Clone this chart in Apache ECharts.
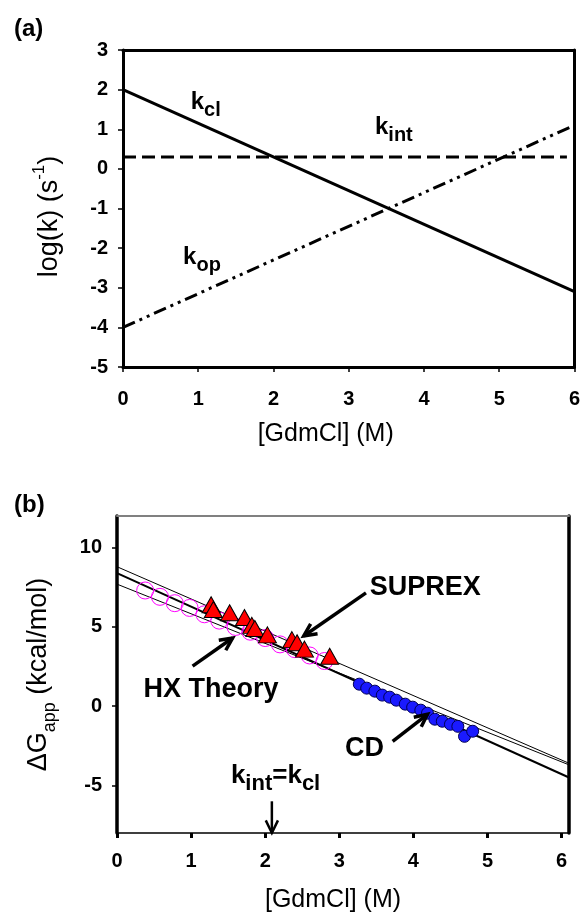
<!DOCTYPE html>
<html>
<head>
<meta charset="UTF-8">
<script src="https://cdn.jsdelivr.net/npm/echarts@6/dist/echarts.min.js"></script>
<style>
  * { padding: 0; margin: 0; }
  body { background: #fff; }
  #box { width: 583px; height: 917px; }
</style>
</head>
<body>
<div id="box"></div>
<script>
  // ---- panel (a) ----
  var lineX = [0, 6]
  var kcl = [2, -3.1]
  var kop = [-4, 1.1]
  var kintX = [0, 5.9]
  var kint = [0.3, 0.3]
  var xTicksA = [0, 1, 2, 3, 4, 5, 6]
  var yTicksA = [-5, -4, -3, -2, -1, 0, 1, 2, 3]
  // label positions (data coords)
  var labelsA = [
    ['{k|k}{s|cl}', 1.1, 1.6],
    ['{k|k}{s|int}', 3.6, 0.98],
    ['{k|k}{s|op}', 1.05, -2.3]
  ]

  // ---- panel (b) ----
  var fitX = [0, 6.1]
  var fitTop = [8.8, -3.6]
  var fitMid = [8.4, -4.5]
  var fitLow = [7.7, -3.7]
  var hxX = [0.38, 0.58, 0.78, 0.98, 1.18, 1.38, 1.6, 1.8, 2.0, 2.2, 2.4, 2.6, 2.8]
  var hxY = [7.3, 6.9, 6.5, 6.2, 5.8, 5.4, 5.0, 4.7, 4.3, 3.9, 3.6, 3.2, 2.85]
  var suprexX = [1.27, 1.3, 1.52, 1.72, 1.82, 1.86, 2.03, 2.36, 2.43, 2.53, 2.87]
  var suprexY = [6.4, 6.1, 5.9, 5.6, 5.1, 4.9, 4.5, 4.2, 4.0, 3.6, 3.15]
  var cdX = [3.27, 3.37, 3.48, 3.58, 3.68, 3.77, 3.89, 3.99, 4.1, 4.19, 4.29, 4.39, 4.5, 4.6, 4.69, 4.8]
  var cdY = [1.39, 1.14, 0.95, 0.7, 0.57, 0.38, 0.13, -0.06, -0.25, -0.44, -0.82, -0.95, -1.14, -1.27, -1.9, -1.58]
  var xTicksB = [0, 1, 2, 3, 4, 5, 6]
  var yTicksB = [-5, 0, 5, 10]
  var labelsB = [
    ['SUPREX', 4.16, 7.47],
    ['HX Theory', 1.27, 1.08],
    ['CD', 3.34, -2.66],
    ['{k|k}{s|int}{k|=k}{s|cl}', 2.14, -4.56]
  ]
  // arrows: x1, y1 (tail), x2, y2 (head)
  var arrowsB = [
    [3.36, 7.15, 2.52, 4.43],
    [1.02, 2.53, 1.56, 4.3],
    [3.72, -2.22, 4.19, -0.51],
    [2.09, -6.0, 2.09, -8.0]
  ]

  function zip(xs, ys) {
    var out = []
    for (let i = 0; i < xs.length; i++) out.push([xs[i], ys[i]])
    return out
  }

  var FONT = "'Liberation Sans', Arial, sans-serif"
  var richA = {
    k: { fontFamily: FONT, fontWeight: 'bold', fontSize: 24, color: '#000', lineHeight: 30, verticalAlign: 'top' },
    s: { fontFamily: FONT, fontWeight: 'bold', fontSize: 20, color: '#000', lineHeight: 30, verticalAlign: 'bottom' }
  }
  var richB = {
    k: { fontFamily: FONT, fontWeight: 'bold', fontSize: 26, color: '#000', lineHeight: 32, verticalAlign: 'top' },
    s: { fontFamily: FONT, fontWeight: 'bold', fontSize: 22, color: '#000', lineHeight: 32, verticalAlign: 'bottom' }
  }

  function frameAxis(grid, pos, min, max, color, width) {
    return {
      type: 'value', gridIndex: grid, position: pos, min: min, max: max,
      axisLine: { show: true, onZero: false, lineStyle: { color: color, width: width } },
      axisTick: { show: false }, axisLabel: { show: false }, splitLine: { show: false }
    }
  }

  function arrowItem(params, api) {
    var p1 = api.coord([api.value(0), api.value(1)])
    var p2 = api.coord([api.value(2), api.value(3)])
    var ang = Math.atan2(p2[1] - p1[1], p2[0] - p1[0])
    var L = 14, a = 0.45
    var h1 = [p2[0] - L * Math.cos(ang - a), p2[1] - L * Math.sin(ang - a)]
    var h2 = [p2[0] - L * Math.cos(ang + a), p2[1] - L * Math.sin(ang + a)]
    var w = params.dataIndex === 3 ? 2.5 : 3.5
    return {
      type: 'group',
      children: [
        { type: 'line', shape: { x1: p1[0], y1: p1[1], x2: p2[0], y2: p2[1] }, style: { stroke: '#000', lineWidth: w } },
        { type: 'polyline', shape: { points: [h1, p2, h2] }, style: { stroke: '#000', lineWidth: w, fill: null } }
      ]
    }
  }

  var tickLabel = { fontFamily: FONT, fontWeight: 'bold', fontSize: 20, color: '#000' }

  var mCharts = echarts.init(document.getElementById('box'), null, { renderer: 'canvas' })
  var option = {
    backgroundColor: '#fff',
    animation: false,
    title: [
      { text: '(a)', left: 9, top: 12, textStyle: { fontFamily: FONT, fontWeight: 'bold', fontSize: 24, color: '#000' } },
      { text: '(b)', left: 9, top: 488, textStyle: { fontFamily: FONT, fontWeight: 'bold', fontSize: 24, color: '#000' } }
    ],
    grid: [
      { left: 123, top: 50, width: 453, height: 317 },
      { left: 117, top: 516, width: 452, height: 317 }
    ],
    xAxis: [
      {
        type: 'value', gridIndex: 0, min: 0, max: 6, interval: 1,
        name: '[GdmCl] (M)', nameLocation: 'middle', nameGap: 55,
        nameTextStyle: { fontFamily: FONT, fontSize: 25, color: '#000', padding: [0, 46, 0, 0] },
        axisLine: { onZero: false, lineStyle: { color: '#000', width: 3 } },
        axisTick: { show: true, length: 5, lineStyle: { color: '#000', width: 1.5 }, customValues: xTicksA },
        axisLabel: Object.assign({ margin: 22, customValues: xTicksA }, tickLabel),
        splitLine: { show: false }
      },
      frameAxis(0, 'top', 0, 6, '#000', 3),
      {
        type: 'value', gridIndex: 1, min: 0, max: 6.1,
        name: '[GdmCl] (M)', nameLocation: 'middle', nameGap: 55,
        nameTextStyle: { fontFamily: FONT, fontSize: 25, color: '#000', padding: [0, 20, 0, 0] },
        axisLine: { onZero: false, lineStyle: { color: '#000', width: 1.5 } },
        axisTick: { show: true, length: 5, lineStyle: { color: '#000', width: 3 }, customValues: xTicksB },
        axisLabel: Object.assign({ margin: 18, customValues: xTicksB }, tickLabel),
        splitLine: { show: false }
      },
      frameAxis(1, 'top', 0, 6.1, '#808080', 2)
    ],
    yAxis: [
      {
        type: 'value', gridIndex: 0, min: -5, max: 3, interval: 1,
        name: '{t|log(k) (s}{sup|-1}{t|)}', nameLocation: 'middle', nameGap: 60, nameRotate: 90,
        nameTextStyle: {
          padding: [0, 16, 0, 0],
          rich: {
            t: { fontFamily: FONT, fontSize: 27, color: '#000', lineHeight: 32, verticalAlign: 'bottom' },
            sup: { fontFamily: FONT, fontSize: 17, color: '#000', lineHeight: 32, verticalAlign: 'top' }
          }
        },
        axisLine: { onZero: false, lineStyle: { color: '#000', width: 3 } },
        axisTick: { show: true, length: 5, lineStyle: { color: '#000', width: 1.5 }, customValues: yTicksA },
        axisLabel: Object.assign({ margin: 15, customValues: yTicksA }, tickLabel),
        splitLine: { show: false }
      },
      frameAxis(0, 'right', -5, 3, '#000', 3),
      {
        type: 'value', gridIndex: 1, min: -8, max: 12,
        name: '{t|\u0394G}{sub|app}{t| (kcal/mol)}', nameLocation: 'middle', nameGap: 58, nameRotate: 90,
        nameTextStyle: {
          rich: {
            t: { fontFamily: FONT, fontSize: 27, color: '#000', lineHeight: 34, verticalAlign: 'top' },
            sub: { fontFamily: FONT, fontSize: 18, color: '#000', lineHeight: 34, verticalAlign: 'bottom' }
          }
        },
        axisLine: { onZero: false, lineStyle: { color: '#000', width: 3.5 } },
        axisTick: { show: true, length: 5, lineStyle: { color: '#000', width: 1.5 }, customValues: yTicksB },
        axisLabel: Object.assign({ margin: 15, customValues: yTicksB }, tickLabel),
        splitLine: { show: false }
      },
      frameAxis(1, 'right', -8, 12, '#000', 3.5)
    ],
    series: [
      // panel (a)
      { type: 'line', xAxisIndex: 0, yAxisIndex: 0, data: zip(lineX, kcl), symbol: 'none',
        lineStyle: { color: '#000', width: 3 } },
      { type: 'line', xAxisIndex: 0, yAxisIndex: 0, data: zip(kintX, kint), symbol: 'none',
        lineStyle: { color: '#000', width: 3, type: [13, 6] } },
      { type: 'line', xAxisIndex: 0, yAxisIndex: 0, data: zip(lineX, kop), symbol: 'none',
        lineStyle: { color: '#000', width: 3, type: [13, 5, 3, 5, 3, 5] } },
      { type: 'scatter', xAxisIndex: 0, yAxisIndex: 0, symbolSize: 1, itemStyle: { color: 'transparent', opacity: 1 },
        data: labelsA.map(function (d) { return { value: [d[1], d[2]], name: d[0] } }),
        label: { show: true, position: 'inside', color: '#000', formatter: function (p) { return p.name }, rich: richA } },
      // panel (b)
      { type: 'line', xAxisIndex: 2, yAxisIndex: 2, data: zip(fitX, fitTop), symbol: 'none', z: 1,
        lineStyle: { color: '#000', width: 1 } },
      { type: 'line', xAxisIndex: 2, yAxisIndex: 2, data: zip(fitX, fitLow), symbol: 'none', z: 1,
        lineStyle: { color: '#000', width: 1 } },
      { type: 'line', xAxisIndex: 2, yAxisIndex: 2, data: zip(fitX, fitMid), symbol: 'none', z: 1,
        lineStyle: { color: '#000', width: 2 } },
      { type: 'scatter', xAxisIndex: 2, yAxisIndex: 2, data: zip(hxX, hxY), symbol: 'circle', symbolSize: 17, z: 3,
        itemStyle: { color: 'transparent', borderColor: '#ff00ff', borderWidth: 1, opacity: 1 } },
      { type: 'scatter', xAxisIndex: 2, yAxisIndex: 2, data: zip(suprexX, suprexY), symbol: 'triangle', symbolSize: [18, 16], z: 4,
        itemStyle: { color: '#ff0000', borderColor: '#000', borderWidth: 1, opacity: 1 } },
      { type: 'scatter', xAxisIndex: 2, yAxisIndex: 2, data: zip(cdX, cdY), symbol: 'circle', symbolSize: 12, z: 4,
        itemStyle: { color: '#1a1aff', borderColor: '#000055', borderWidth: 1, opacity: 1 } },
      { type: 'custom', xAxisIndex: 2, yAxisIndex: 2, data: arrowsB, renderItem: arrowItem, z: 5,
        encode: { x: [0, 2], y: [1, 3] } },
      { type: 'scatter', xAxisIndex: 2, yAxisIndex: 2, symbolSize: 1, itemStyle: { color: 'transparent', opacity: 1 }, z: 6,
        data: labelsB.map(function (d) { return { value: [d[1], d[2]], name: d[0] } }),
        label: { show: true, position: 'inside', formatter: function (p) { return p.name },
          fontFamily: FONT, fontWeight: 'bold', fontSize: 27, color: '#000', rich: richB } }
    ]
  }
  mCharts.setOption(option)
</script>
</body>
</html>
